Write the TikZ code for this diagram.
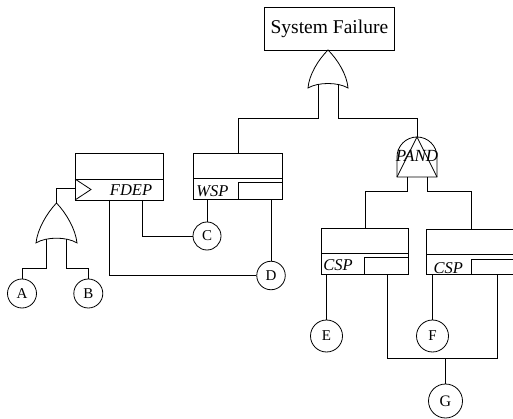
\documentclass[tikz,border=0pt]{standalone}
\usepackage{fontspec}
\setmainfont{Liberation Serif}
\begin{document}
\begin{tikzpicture}[x=1pt,y=-1pt, line width=0.8pt,
  box/.style={draw, rectangle, inner sep=0pt, anchor=north west},
  ev/.style={draw, circle, inner sep=0pt, font=\fontsize{15}{15}\selectfont},
  lab/.style={font=\fontsize{16.5}{16.5}\selectfont\itshape, inner sep=0pt, anchor=base}]
\clip (0,0) rectangle (513,419);

% top event
\node[box, minimum width=130pt, minimum height=43pt, font=\fontsize{19.5}{20}\selectfont] (sys) at (264,7) {System Failure};

% top OR gate
\begin{scope}[shift={(328,50)}]
  \draw (0,0) .. controls (-10,10) and (-19,25) .. (-20,38) .. controls (-10,32) and (10,32) .. (20,38) .. controls (19,25) and (10,10) .. (0,0) -- cycle;
  \coordinate (or1out) at (0,0);
  \coordinate (or1a) at (-10,34.6);
  \coordinate (or1b) at (10,34.6);
\end{scope}

% left OR gate
\begin{scope}[shift={(56.5,203)}, yscale=1.05]
  \draw (0,0) .. controls (-10,10) and (-19,25) .. (-20.5,38) .. controls (-10,32) and (10,32) .. (20.5,38) .. controls (19,25) and (10,10) .. (0,0) -- cycle;
  \coordinate (or2out) at (0,0);
  \coordinate (or2a) at (-10,34.6);
  \coordinate (or2b) at (10,34.6);
\end{scope}

% PAND gate
\begin{scope}[shift={(417,157)}]
  \draw (-20,20) -- (-20,0) .. controls (-20,-11.05) and (-11.05,-20) .. (0,-20) .. controls (11.05,-20) and (20,-11.05) .. (20,0) -- (20,20) -- cycle;
  \draw (-20,20) -- (0,-20) -- (20,20);
  \coordinate (pandout) at (0,-20);
  \coordinate (panda) at (-10,20);
  \coordinate (pandb) at (10,20);
\end{scope}
\node[lab, anchor=center, font=\fontsize{17}{17}\selectfont\itshape] (pandlab) at (417,156) {PAND};

% FDEP
\node[box, minimum width=88pt, minimum height=47pt] (fdep) at (75,153) {};
\draw (75,179) -- (163,179);
\draw (75,179) -- (91,189.5) -- (75,200);
\node[lab] (fdeplab) at (131,196) {FDEP};

% WSP
\node[box, minimum width=89pt, minimum height=46pt] (wsp) at (193,153) {};
\draw (193,178.5) -- (282,178.5);
\draw (282,182.5) -- (238,182.5) -- (238,199);
\node[lab] (wsplab) at (212.5,197) {WSP};

% CSP 1
\node[box, minimum width=87pt, minimum height=46pt] (csp1) at (321,228) {};
\draw (321,253) -- (408,253);
\draw (408,257) -- (364,257) -- (364,274);
\node[lab] (csp1lab) at (338,270) {CSP};

% CSP 2
\node[box, minimum width=90pt, minimum height=45pt] (csp2) at (426,229) {};
\draw (426,254) -- (516,254);
\draw (516,259) -- (471,259) -- (471,274);
\node[lab] (csp2lab) at (448.3,273) {CSP};

% basic events
\node[ev, minimum size=29pt] (A) at (22,293.5) {A};
\node[ev, minimum size=29pt] (B) at (88.3,293.5) {B};
\node[ev, minimum size=28pt] (C) at (207,236) {C};
\node[ev, minimum size=28.5pt] (D) at (271,275.5) {D};
\node[ev, minimum size=32pt] (E) at (326.5,336) {E};
\node[ev, minimum size=32pt] (F) at (432.5,336) {F};
\node[ev, minimum size=34pt, font=\fontsize{16}{16}\selectfont] (G) at (445.5,401) {G};

% levels and ports
\coordinate (lvl1) at (0,118);
\coordinate (lvl2) at (0,191);
\coordinate (lvl3) at (0,268);
\coordinate (lvl4) at (0,358);
\coordinate (trig) at (75,188);
\coordinate (f1) at (142.5,200);
\coordinate (f2) at (109,200);
\coordinate (c1p) at (387,274);
\coordinate (c2p) at (497,274);

% connectors
\draw (or1a) -- (or1a |- lvl1) -| (wsp.north);
\draw (or1b) -- (or1b |- lvl1) -| (pandout);
\draw (panda) -- (panda |- lvl2) -| (csp1.north);
\draw (pandb) -- (pandb |- lvl2) -| (csp2.north);
\draw (or2out) |- (trig);
\draw (or2a) -- (or2a |- lvl3) -| (A);
\draw (or2b) -- (or2b |- lvl3) -| (B);
\draw (wsp.south -| C) -- (C);
\draw (wsp.south -| D) -- (D);
\draw (f1) |- (C);
\draw (f2) |- (D);
\draw (csp1.south -| E) -- (E);
\draw (csp2.south -| F) -- (F);
\draw (c1p) -- (c1p |- lvl4) -- (c2p |- lvl4) -- (c2p);
\draw (G) -- (G |- lvl4);
\end{tikzpicture}
\end{document}
